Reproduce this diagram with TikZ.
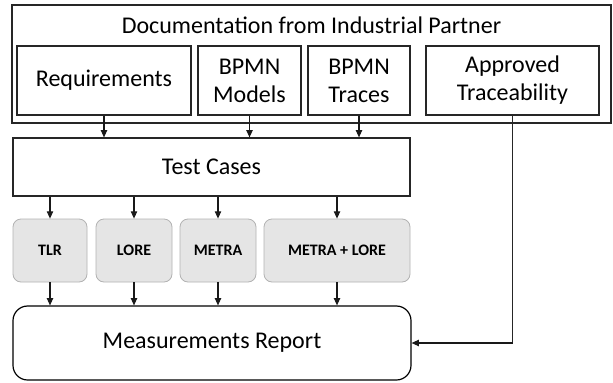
\documentclass[tikz,border=0pt]{standalone}
\usepackage{fontspec}
\setmainfont{Carlito}
\usetikzlibrary{arrows.meta}

\tikzset{
  px/.style={x=0.75pt,y=-0.75pt},
  doc/.style={draw=black!85,line width=0.9pt,inner sep=0pt,align=center,
    font=\fontsize{18}{21}\selectfont},
  method/.style={draw=black!30,fill=black!10,line width=0.6pt,rounded corners=6pt,
    inner sep=0pt,align=center,font=\fontsize{12}{14}\selectfont\bfseries},
  report/.style={draw=black,line width=0.9pt,rounded corners=11pt,inner sep=0pt,
    align=center,font=\fontsize{18}{21}\selectfont},
  arr/.style={draw=black!90,line width=0.8pt,-{Triangle[length=5.5pt,width=4.8pt]}},
  link/.style={draw=black!85,line width=1.1pt}
}

\begin{document}
\begin{tikzpicture}[px]
\useasboundingbox (0,0) rectangle (613,382);

% industrial partner documentation
\node[doc,minimum width=449.25pt,minimum height=88.5pt] (partner) at (311.5,64) {};
\node[font=\fontsize{18}{21}\selectfont,inner sep=0pt] (partnertitle) at (311.5,25) {Documentation from Industrial Partner};
\node[doc,minimum width=130.5pt,minimum height=51.75pt] (req) at (104,80.5) {Requirements};
\node[doc,minimum width=77.25pt,minimum height=51.75pt] (models) at (249.5,80.5) {BPMN\\Models};
\node[doc,minimum width=76.5pt,minimum height=51.75pt] (traces) at (359,80.5) {BPMN\\Traces};
\node[doc,minimum width=129.75pt,minimum height=51.75pt] (approved) at (512.5,80.5) {Approved\\Traceability};

% test cases
\node[doc,minimum width=297.75pt,minimum height=43.5pt] (tests) at (211.5,167) {Test Cases};

% approaches
\node[method,minimum width=55.5pt,minimum height=47.25pt] (tlr) at (50,250.5) {TLR};
\node[method,minimum width=57pt,minimum height=47.25pt] (lore) at (134,250.5) {LORE};
\node[method,minimum width=57pt,minimum height=47.25pt] (metra) at (218,250.5) {METRA};
\node[method,minimum width=109.5pt,minimum height=47.25pt] (metralore) at (337,250.5) {METRA + LORE};

% report
\node[report,minimum width=298.5pt,minimum height=55.5pt] (report) at (212,343) {Measurements Report};

% connectors
\draw[arr] (req.south) -- (req.south |- tests.north);
\draw[arr] (models.south) -- (models.south |- tests.north);
\draw[arr] (traces.south) -- (traces.south |- tests.north);

\foreach \m in {tlr,lore,metra,metralore}{
  \draw[arr] (tests.south -| \m.north) -- (\m.north);
  \draw[arr] (\m.south) -- (\m.south |- report.north);
}

\coordinate (bend) at (approved.south |- report.east);
\draw[link] (approved.south) -- (bend);
\draw[arr] (bend) -- (report.east);
\end{tikzpicture}
\end{document}
